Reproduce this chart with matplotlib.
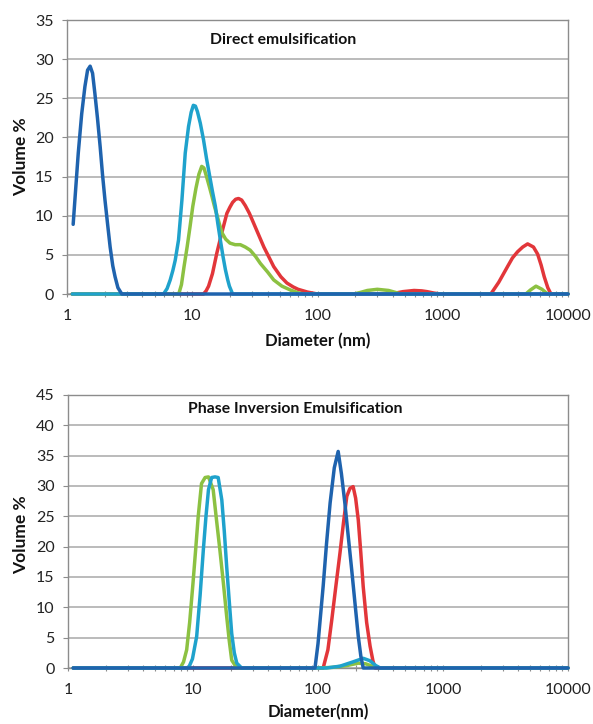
import matplotlib
matplotlib.use("Agg")
import matplotlib.pyplot as plt
from matplotlib.ticker import LogLocator, NullFormatter, FixedLocator, FixedFormatter

plt.rcParams['font.family'] = ['Lato', 'DejaVu Sans']

# ---------------- Data: Direct emulsification ----------------
d_red_x = [1.1, 12.3, 12.9, 13.5, 14.5, 15.7, 17.2, 18.9, 20, 21, 22.2, 23.4, 24.8, 26.5, 28.6, 31, 34,
           37.3, 41, 44.7, 51, 57, 64, 70, 83, 100,
           385, 430, 480, 590, 680, 750, 850, 960,
           2420, 2800, 3290, 3600, 3960, 4350, 4760, 5300, 5720, 6100, 6460, 6900, 7310, 10000]
d_red_y = [0, 0, 0.4, 1.0, 2.6, 5.2, 7.8, 10.3, 11.1, 11.7, 12.1, 12.2, 12.0, 11.3, 10.3, 9.0, 7.5,
           6.0, 4.7, 3.5, 2.2, 1.4, 0.9, 0.6, 0.25, 0,
           0, 0.15, 0.3, 0.45, 0.4, 0.3, 0.12, 0,
           0, 1.5, 3.5, 4.6, 5.4, 6.0, 6.4, 6.0, 5.1, 3.7, 2.2, 0.8, 0, 0]

d_green_x = [1.1, 7.8, 8.2, 8.6, 9.1, 9.6, 10.1, 10.7, 11.3, 11.9, 12.4, 13.0, 13.7, 14.4, 15.1, 15.8,
             16.5, 17.3, 18.5, 20, 22, 24.2, 26.5, 29, 32, 35, 40, 44.7, 52, 61, 70, 78,
             195, 220, 250, 300, 370, 420, 460, 4610, 5000, 5550, 6200, 6870, 10000]
d_green_y = [0, 0, 1.2, 3.5, 6.0, 8.6, 11.2, 13.5, 15.3, 16.3, 16.1, 15.0, 13.7, 12.4, 11.1, 10.0,
             8.9, 7.8, 7.0, 6.5, 6.3, 6.3, 6.0, 5.6, 4.8, 3.9, 2.8, 1.8, 1.0, 0.5, 0.15, 0,
             0, 0.2, 0.45, 0.6, 0.45, 0.2, 0, 0, 0.5, 1.0, 0.6, 0, 0]

d_cyan_x = [1.1, 5.9, 6.3, 6.67, 7.0, 7.31, 7.77, 8.27, 8.79, 9.34, 9.8, 10.2, 10.6, 11.0, 11.6, 12.3,
            13.0, 13.8, 14.5, 15.3, 16.0, 16.8, 17.6, 18.4, 19.2, 19.8, 21, 10000]
d_cyan_y = [0, 0, 0.7, 1.8, 3.0, 4.3, 6.9, 12.0, 18.0, 21.4, 23.2, 24.1, 24.0, 23.3, 21.8, 19.7,
            17.3, 15.0, 13.1, 11.2, 9.0, 6.8, 4.8, 3.1, 1.8, 1.0, 0, 0]

d_blue_x = [1.12, 1.18, 1.23, 1.31, 1.39, 1.46, 1.53, 1.60, 1.67, 1.75, 1.84, 1.92, 2.01, 2.11, 2.21,
            2.32, 2.42, 2.55, 2.74, 10000]
d_blue_y = [8.9, 14.0, 18.0, 23.0, 26.5, 28.6, 29.1, 28.2, 25.6, 22.5, 18.8, 15.3, 12.0, 8.9, 6.0,
            3.6, 2.2, 0.8, 0, 0]

# ---------------- Data: Phase Inversion Emulsification ----------------
p_red_x = [1.1, 110, 120, 129, 139, 150, 160, 170, 180, 191, 200, 210, 220, 230, 245, 261, 275, 286, 10000]
p_red_y = [0, 0, 3.0, 8.0, 13.5, 19.0, 24.0, 28.3, 29.6, 29.9, 28.0, 24.4, 19.0, 13.4, 7.5, 3.6, 1.2, 0, 0]

p_green_x = [1.1, 7.9, 8.4, 8.9, 9.4, 10.0, 10.5, 11.0, 11.7, 12.5, 13.3, 14.5, 15.4, 16.4, 17.5, 18.6,
             19.5, 20.4, 22.4, 100, 130, 170, 210, 240, 280, 315, 10000]
p_green_y = [0, 0, 1.0, 3.0, 7.5, 14.0, 19.5, 24.9, 30.4, 31.4, 31.5, 29.4, 24.5, 19.5, 14.0, 8.5,
             4.5, 1.3, 0, 0, 0.1, 0.4, 0.8, 0.7, 0.2, 0, 0]

p_cyan_x = [1.1, 9.2, 9.9, 10.7, 11.4, 12.1, 12.7, 13.3, 14.1, 15.0, 15.9, 17.0, 17.8, 18.6, 19.5, 20.4,
            21.4, 22.4, 24.5, 117, 150, 190, 230, 260, 290, 315, 10000]
p_cyan_y = [0, 0, 1.5, 5.2, 12.0, 19.5, 25.0, 29.4, 31.4, 31.5, 31.4, 27.7, 22.5, 16.7, 11.0, 5.7,
            2.5, 0.8, 0, 0, 0.3, 1.0, 1.6, 1.2, 0.4, 0, 0]

p_blue_x = [1.1, 94.6, 100, 110, 117, 125, 135, 145, 154, 164, 175, 186, 198, 210, 220, 230, 10000]
p_blue_y = [0, 0, 4.0, 13.5, 20.5, 27.2, 33.0, 35.7, 32.0, 27.2, 21.5, 16.2, 10.5, 5.2, 2.0, 0, 0]

x_ticks = [1, 10, 100, 1000, 10000]
x_tick_labels = ["1", "10", "100", "1000", "10000"]

RED = "#e2363a"
GREEN = "#8cc142"
CYAN = "#1fa2cc"
BLUE = "#1f63ae"

W, H = 593, 724
fig = plt.figure(figsize=(W / 100, H / 100), dpi=100)


def axes_px(left, top, right, bottom):
    return fig.add_axes([left / W, 1 - bottom / H, (right - left) / W, (bottom - top) / H])


def style(ax, ymax):
    ax.set_xscale("log")
    ax.set_xlim(1, 10000)
    ax.set_ylim(0, ymax)
    ax.yaxis.set_major_locator(FixedLocator(list(range(0, ymax + 1, 5))))
    ax.xaxis.set_major_locator(FixedLocator(x_ticks))
    ax.xaxis.set_major_formatter(FixedFormatter(x_tick_labels))
    ax.xaxis.set_minor_locator(LogLocator(base=10, subs=[2, 3, 4, 5, 6, 7, 8, 9]))
    ax.xaxis.set_minor_formatter(NullFormatter())
    ax.grid(axis="y", color="#a8a8a8", lw=1.1)
    ax.set_axisbelow(True)
    for s in ax.spines.values():
        s.set_color("#8c8c8c")
        s.set_linewidth(1.0)
    ax.tick_params(axis="y", direction="out", length=3.6, width=0.8, color="#8c8c8c",
                   labelsize=11.5, pad=6, labelcolor="#222222")
    ax.tick_params(axis="x", which="both", direction="inout", length=5, width=0.8,
                   color="#8c8c8c", labelsize=11.5, pad=8, labelcolor="#222222")


def draw(ax, series):
    for xs, ys, c in series:
        ax.plot(xs, ys, color=c, lw=2.5, solid_joinstyle="round", solid_capstyle="round",
                clip_on=False, zorder=3)


ax1 = axes_px(67, 20, 568, 294)
style(ax1, 35)
draw(ax1, [(d_red_x, d_red_y, RED), (d_green_x, d_green_y, GREEN),
           (d_cyan_x, d_cyan_y, CYAN), (d_blue_x, d_blue_y, BLUE)])

ax2 = axes_px(68, 395, 568, 668)
style(ax2, 45)
draw(ax2, [(p_red_x, p_red_y, RED), (p_green_x, p_green_y, GREEN),
           (p_cyan_x, p_cyan_y, CYAN), (p_blue_x, p_blue_y, BLUE)])


def ftext(x, y, s, **kw):
    fig.text(x / W, 1 - y / H, s, ha="center", va="center", color="#111111", **kw)


ftext(283, 40, "Direct emulsification", fontsize=11.3, fontweight="bold")
ftext(295, 409, "Phase Inversion Emulsification", fontsize=11.3, fontweight="bold")
ftext(318, 341, "Diameter (nm)", fontsize=12, fontweight="bold")
ftext(318, 712, "Diameter(nm)", fontsize=12, fontweight="bold")
ftext(21, 157, "Volume %", fontsize=12.5, fontweight="bold", rotation=90)
ftext(21, 535, "Volume %", fontsize=12.5, fontweight="bold", rotation=90)

fig.savefig("out.png", dpi=100)
